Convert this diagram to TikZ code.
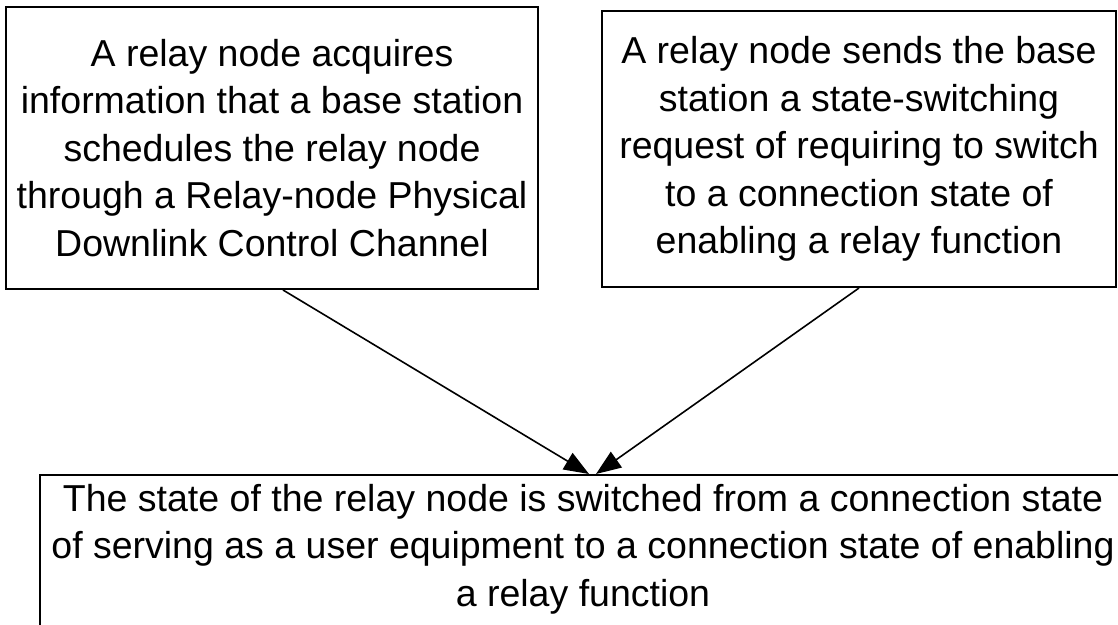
\documentclass[tikz,border=0pt]{standalone}
\usepackage{fontspec}
\setmainfont{Liberation Sans}
\usepackage{tikz}
\usetikzlibrary{arrows.meta}
\usetikzlibrary{calc}
\tikzset{box/.style={draw, line width=2pt, align=center, inner sep=0pt, font=\fontsize{37.5}{47.5}\selectfont}}
\tikzset{flow/.style={line width=1.6pt, -{Triangle[length=25pt,width=19pt]}}}

\begin{document}
\begin{tikzpicture}
        \begin{scope}[x=1pt, y=-1pt]
          \useasboundingbox (0,0) rectangle (1118,624);
          \clip (0,0) rectangle (1118,624);
          \node [box, minimum width=532pt, minimum height=282pt] (acquire) at (272, 148)
            {A relay node acquires\\information that a base station\\schedules the relay node\\through a Relay-node Physical\\Downlink Control Channel};
          \node [box, minimum width=514pt, minimum height=276pt] (request) at (859, 149)
            {A relay node sends the base\\station a state-switching\\request of requiring to switch\\to a connection state of\\enabling a relay function};
          % the box runs on below the page edge
          \node [box, minimum width=1086pt, minimum height=188pt] (switched) at (583, 569)
            {The state of the relay node is switched from a connection state\\of serving as a user equipment to a connection state of enabling\\a relay function\\~};
          \coordinate (acquire-out) at ([xshift=11pt]acquire.south);
          \coordinate (request-out) at ([xshift=0pt]request.south);
          \coordinate (switched-in1) at ([xshift=6pt]switched.north);
          \coordinate (switched-in2) at ([xshift=13pt]switched.north);
          \draw [flow] (acquire-out) -- (switched-in1);
          \draw [flow] (request-out) -- (switched-in2);
        \end{scope}
      \end{tikzpicture}
\end{document}
